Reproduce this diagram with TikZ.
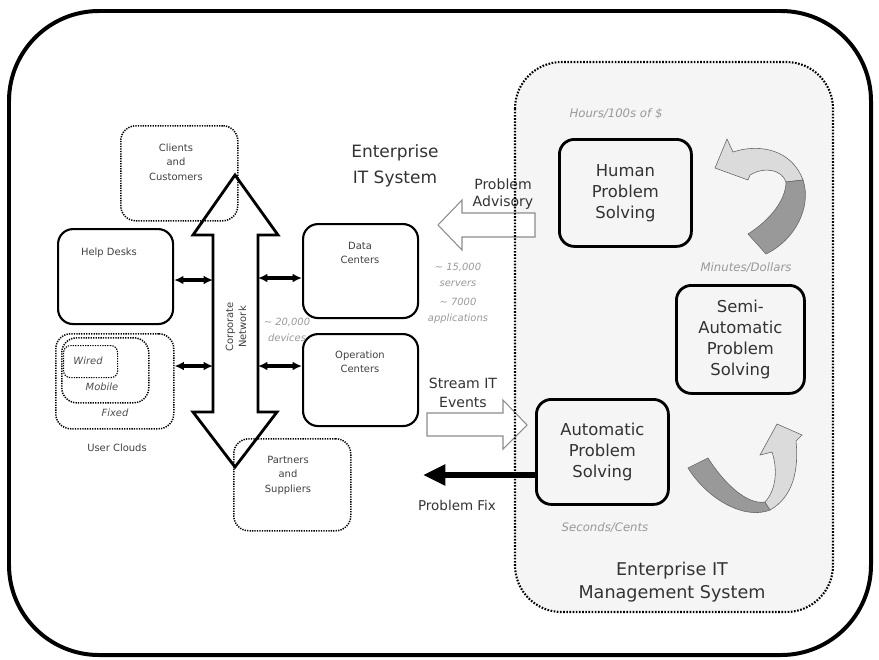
\documentclass[tikz,border=0pt]{standalone}
\usepackage{fontspec}
\setmainfont{DejaVu Sans}
\usetikzlibrary{arrows.meta}

\begin{document}
\begin{tikzpicture}[x=0.3mm,y=-0.3mm,
  frame/.style={draw,line width=3.4pt,rounded corners=27mm},
  mgmt/.style={line width=1.8pt,dash pattern=on 1.4pt off 1.3pt,rounded corners=14mm},
  dotbox/.style={draw,line width=1.3pt,dash pattern=on 1.1pt off 1pt,rounded corners=4.5mm,anchor=north west,inner sep=0pt},
  box/.style={draw,line width=1.8pt,rounded corners=4.5mm,anchor=north west,inner sep=0pt},
  solvebox/.style={draw,line width=2.4pt,rounded corners=4.5mm,anchor=north west,inner sep=0pt,
    font=\fontsize{14}{18}\selectfont,text=black!80,align=center},
  small/.style={font=\fontsize{8.5}{12.4}\selectfont,text=black!75,align=center},
  tiny/.style={font=\fontsize{8.5}{11}\selectfont\itshape,text=black!70},
  note/.style={font=\fontsize{8.5}{13.7}\selectfont\itshape,text=black!40,align=center},
  cost/.style={font=\fontsize{10}{12}\selectfont\itshape,text=black!40},
  big/.style={font=\fontsize{12}{15}\selectfont,text=black!80,align=center},
  link/.style={{Latex[length=8pt,width=7.5pt]}-{Latex[length=8pt,width=7.5pt]},line width=2.6pt},
  hollow/.style={draw=black!45,fill=white,line width=0.9pt,line join=miter},
  lightband/.style={fill=black!14,draw=black!60,line width=0.5pt},
  darkband/.style={fill=black!40,draw=black!60,line width=0.5pt},
]
\useasboundingbox (0,0) rectangle (879,659);
% outer frame
\draw[frame] (9,11) rectangle (871,655);
% management system area
\fill[black!4,mgmt] (515,62) rectangle (833,612);

% corporate network
\draw[line width=2.4pt,line join=miter] (235,175) -- (278,235) -- (258,235) -- (258,412) -- (277,412)
  -- (235,467) -- (193,412) -- (213,412) -- (213,235) -- (193,235) -- cycle;
\node[small,rotate=90,font=\fontsize{8.5}{11}\selectfont] (netlbl) at (236,327) {Corporate\\Network};
\coordinate (netW1) at (213,280);
\coordinate (netE1) at (258,278);
\coordinate (netW2) at (213,366);
\coordinate (netE2) at (258,366);

% enterprise side
\node[dotbox,minimum width=35.1mm,minimum height=28.5mm] (clients) at (120,125) {};
\node[small] (clientslbl) at (176,162) {Clients\\and\\Customers};
\node[box,minimum width=34.5mm,minimum height=28.5mm] (help) at (57,228) {};
\node[small] (helplbl) at (109,253) {Help Desks};
\node[dotbox,minimum width=35.4mm,minimum height=28.5mm] (clouds) at (55,333) {};
\node[dotbox,minimum width=26.1mm,minimum height=19.5mm] (mobile) at (61,337) {};
\node[dotbox,line width=1pt,rounded corners=2mm,minimum width=16.2mm,minimum height=9.6mm] (wired) at (63,345) {};
\node[tiny] (wiredlbl) at (88,361) {Wired};
\node[tiny] (mobilelbl) at (102,387) {Mobile};
\node[tiny] (fixedlbl) at (115,413) {Fixed};
\node[small] (cloudslbl) at (117,448) {User Clouds};
\node[box,minimum width=34.5mm,minimum height=28.2mm] (data) at (302,223) {};
\node[small] (datalbl) at (360,253) {Data\\Centers};
\node[box,minimum width=34.5mm,minimum height=27.6mm] (oper) at (302,333) {};
\node[small] (operlbl) at (360,362) {Operation\\Centers};
\node[dotbox,minimum width=35.1mm,minimum height=27.6mm] (partners) at (233,438) {};
\node[small] (partnerslbl) at (288,475) {Partners\\and\\Suppliers};

\draw[link] (help.east |- netW1) -- (netW1);
\draw[link] (data.west |- netE1) -- (netE1);
\draw[link] (clouds.east |- netW2) -- (netW2);
\draw[link] (oper.west |- netE2) -- (netE2);

\node[note] (devices) at (287,330) {\textasciitilde{} 20,000\\devices};
\node[note] (servers) at (458,275) {\textasciitilde{} 15,000\\servers};
\node[note] (apps) at (458,311) {\textasciitilde{} 7000\\applications};
\node[font=\fontsize{14.5}{22}\selectfont,text=black!80,align=center] (title) at (395,166) {Enterprise\\IT System};

% flows between the two systems
\draw[hollow] (438,225) -- (462,200) -- (462,213) -- (535,213) -- (535,237) -- (462,237) -- (462,250) -- cycle;
\node[big] (advisory) at (503,194) {Problem\\Advisory};
\draw[hollow] (427,413) -- (503,413) -- (503,400) -- (527,425) -- (503,449) -- (503,436) -- (427,436) -- cycle;
\node[big,font=\fontsize{12}{16.5}\selectfont] (stream) at (463,393) {Stream IT\\Events};

% problem solving levels
\node[solvebox,minimum width=39.6mm,minimum height=32.1mm] (human) at (558,138) {Human\\Problem\\Solving};
\node[solvebox,minimum width=38.4mm,minimum height=32.4mm] (semi) at (675,284) {Semi-\\Automatic\\Problem\\Solving};
\node[solvebox,minimum width=39.6mm,minimum height=31.5mm] (autops) at (535,398) {Automatic\\Problem\\Solving};
\node[cost] (hours) at (616,114) {Hours/100s of \$};
\node[cost] (minutes) at (746,268) {Minutes/Dollars};
\node[cost] (seconds) at (605,528) {Seconds/Cents};
\node[font=\fontsize{15}{19.6}\selectfont,text=black!80,align=center] (mgmtlbl) at (672,582) {Enterprise IT\\Management System};

\coordinate (fixend) at (423,475);
\draw[-{Triangle[length=19pt,width=17pt]},line width=4.5pt] (autops.west |- fixend) -- (fixend);
\node[big,font=\fontsize{11.5}{14}\selectfont] (fix) at (457,505) {Problem Fix};

% escalation arrows
\draw[lightband] (715,168) -- (727,139) -- (733,152) .. controls (760,143) and (792,150) .. (803,180)
  -- (786,182) .. controls (782,170) and (765,166) .. (750,175) -- (748,180) -- cycle;
\draw[darkband] (803,180) .. controls (812,207) and (795,240) .. (766,254) -- (748,234)
  .. controls (770,220) and (786,200) .. (786,182) -- cycle;
\draw[darkband] (770,510) .. controls (745,520) and (708,500) .. (688,468) -- (708,458)
  .. controls (725,485) and (748,505) .. (765,502) -- cycle;
\draw[lightband] (777,424) -- (802,435) -- (796,441) .. controls (799,470) and (793,497) .. (770,510)
  -- (765,502) .. controls (776,490) and (778,470) .. (772,452) -- (760,455) -- cycle;

% management border on top
\draw[mgmt] (515,62) rectangle (833,612);
\end{tikzpicture}
\end{document}
